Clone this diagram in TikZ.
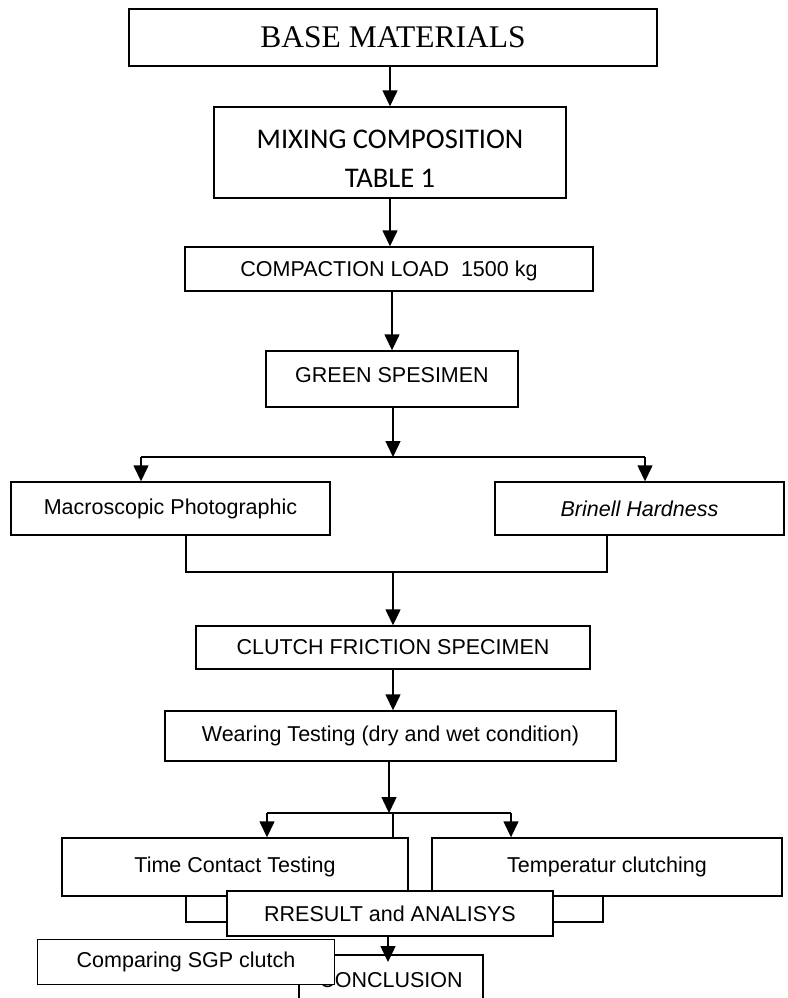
\documentclass[tikz,border=0pt]{standalone}
\usepackage{fontspec}
\setmainfont{Liberation Sans}
\newfontfamily\timesf{Liberation Serif}
\newfontfamily\calibf{Carlito}
\usetikzlibrary{arrows.meta}
\tikzset{
  box/.style={draw, line width=1.4pt, fill=white, inner sep=0pt, align=center,
              font=\fontsize{21.5}{25}\selectfont},
  arr/.style={line width=1.4pt, -{Triangle[width=15pt,length=16pt]}},
  ln/.style={line width=1.4pt},
}
\begin{document}
\begin{tikzpicture}[x=1pt,y=-1pt]
\useasboundingbox (0,0) rectangle (787,998);
\clip (0,0) rectangle (787,998);
\fill[white] (0,0) rectangle (787,998);

\node[box, minimum width=528, minimum height=57, font=\timesf\fontsize{31.5}{34}\selectfont] (base) at (393,37.5) {BASE MATERIALS};
\node[box, minimum width=352, minimum height=91, font=\calibf\fontsize{28.5}{39}\selectfont] (mix) at (390,152.5) {\rule{0pt}{31pt}MIXING COMPOSITION\\TABLE 1};
\node[box, minimum width=408, minimum height=44] (comp) at (389,269) {\rule{0pt}{19pt}COMPACTION LOAD~~1500 kg};
\node[box, minimum width=252, minimum height=56] (green) at (392,379) {GREEN SPESIMEN\rule[-9pt]{0pt}{0pt}};
\node[box, minimum width=319, minimum height=53] (macro) at (170.5,508.5) {Macroscopic Photographic};
\node[box, minimum width=289, minimum height=53] (brin) at (639.5,508.5) {\itshape Brinell Hardness};
\node[box, minimum width=394, minimum height=43] (clutch) at (393,647.5) {CLUTCH FRICTION SPECIMEN};
\node[box, minimum width=451, minimum height=50] (wear) at (390.5,736) {Wearing Testing (dry and wet condition)};
\node[box, minimum width=346, minimum height=58] (time) at (235,867) {Time Contact Testing};
\node[box, minimum width=350, minimum height=58] (temp) at (607,867) {Temperatur clutching};

% connectors top part
\draw[arr] (base.south -| mix.north) -- (mix.north);
\draw[arr] (mix.south) -- (mix.south |- comp.north);
\draw[arr] (comp.south -| green.north) -- (green.north);
\coordinate (br1) at (393,457);
\coordinate (bl1) at (141,457);
\coordinate (brr1) at (645,457);
\draw[arr] (green.south -| br1) -- (br1);
\draw[ln] (bl1) -- (brr1);
\draw[arr] (bl1) -- (bl1 |- macro.north);
\draw[arr] (brr1) -- (brr1 |- brin.north);
\coordinate (j1) at (186,572);
\coordinate (j2) at (607,572);
\coordinate (jm) at (393,572);
\draw[ln] (macro.south -| j1) -- (j1) -- (j2) -- (brin.south -| j2);
\draw[arr] (jm) -- (jm |- clutch.north);
\draw[arr] (clutch.south) -- (clutch.south |- wear.north);

% lower branch
\coordinate (br2) at (389,813);
\coordinate (bl2) at (267,813);
\coordinate (brr2) at (511,813);
\coordinate (st) at (393,813);
\draw[arr] (wear.south -| br2) -- (br2);
\draw[ln] (bl2) -- (brr2);
\draw[arr] (bl2) -- (bl2 |- time.north);
\draw[arr] (brr2) -- (brr2 |- temp.north);
\draw[ln] (st) -- (st |- time.north);
\coordinate (k1) at (186,922);
\coordinate (k2) at (603,922);
\draw[ln] (time.south -| k1) -- (k1) -- (k2) -- (temp.south -| k2);

\node[box, minimum width=326, minimum height=45] (res) at (390,913.5) {RRESULT and ANALISYS};
\node[box, minimum width=184, minimum height=50] (concl) at (391,980) {CONCLUSION};
\coordinate (ra) at (388,935.5);
\coordinate (rb) at (388,962);
\draw[arr] (ra) -- (rb);
\node[box, minimum width=297, minimum height=45] (cmp) at (186,962) {Comparing SGP clutch};
\end{tikzpicture}
\end{document}
